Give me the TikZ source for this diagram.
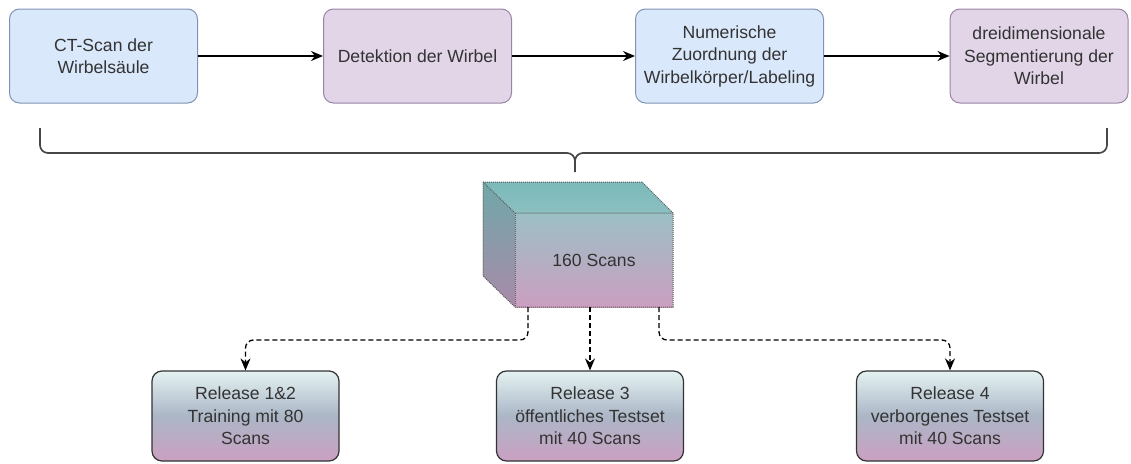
\documentclass[tikz,border=0pt]{standalone}
\usepackage{fontspec}
\setmainfont{Liberation Sans}
\usetikzlibrary{arrows.meta,calc}
\definecolor{bluefill}{HTML}{DAE8FC}
\definecolor{bluedraw}{HTML}{7F93B5}
\definecolor{purplefill}{HTML}{E1D5E7}
\definecolor{purpledraw}{HTML}{9A84A6}
\definecolor{txt}{HTML}{333333}
\definecolor{glosstop}{HTML}{E4F2F2}
\definecolor{glossmid}{HTML}{ABB6C6}
\definecolor{glossbot}{HTML}{CBA0C2}
\definecolor{cubetopA}{HTML}{7BBABA}
\definecolor{cubetopB}{HTML}{8CBFC0}
\definecolor{cubefrontA}{HTML}{9CBFC4}
\definecolor{cubefrontB}{HTML}{CB9FC1}
\definecolor{cubeleftA}{HTML}{6FA8A8}
\definecolor{cubeleftB}{HTML}{A98AA9}
\tikzset{
  lbl/.style={text=txt, font=\fontsize{17.6}{22.5}\selectfont, align=center},
  topbox/.style={lbl, rounded corners=10pt, line width=1pt, minimum width=188pt, minimum height=94pt, inner sep=2pt},
  bluebox/.style={topbox, fill=bluefill, draw=bluedraw},
  purplebox/.style={topbox, fill=purplefill, draw=purpledraw},
  relbox/.style={lbl, rounded corners=10pt, draw=txt, line width=1.2pt, minimum width=187pt, minimum height=90pt,
    top color=glosstop, bottom color=glossbot, middle color=glossmid},
  flow/.style={line width=1.3pt, black, -{Stealth[length=12pt,width=10pt]}},
  dflow/.style={line width=1.3pt, black, dashed, dash pattern=on 5pt off 3pt, rounded corners=8pt, -{Stealth[length=12pt,width=10pt]}},
  bracestyle/.style={line width=1.7pt, draw=txt!90},
  cubeedge/.style={draw=txt!80, densely dotted, line width=1pt}
}
\begin{document}
\begin{tikzpicture}[x=1pt,y=-1pt]
\useasboundingbox (0,0) rectangle (1131,463);
% top row
\node[bluebox]   (b1) at (103.5,56) {CT-Scan der\\Wirbelsäule};
\node[purplebox] (b2) at (417.5,56) {Detektion der Wirbel};
\node[bluebox]   (b3) at (729.5,56) {Numerische\\Zuordnung der\\Wirbelkörper/Labeling};
\node[purplebox, minimum width=178pt] (b4) at (1039,56) {dreidimensionale\\Segmentierung der\\Wirbel};
\draw[flow] (b1) -- (b2);
\draw[flow] (b2) -- (b3);
\draw[flow] (b3) -- (b4);
% brace
\coordinate (brL) at (40,128);
\coordinate (brR) at (1107,128);
\coordinate (brM) at (575,161);
\coordinate (brT) at (575,172);
\draw[bracestyle] (brL) -- (40,145) to[out=-90,in=180] (48,153) -- (567,153) to[out=0,in=90] (brM) -- (brT);
\draw[bracestyle] (brR) -- (1107,145) to[out=-90,in=0] (1099,153) -- (583,153) to[out=180,in=90] (brM);
% cube
\shade[top color=cubetopA, bottom color=cubetopB] (483,182) -- (642,182) -- (673,213) -- (515,213) -- cycle;
\shade[top color=cubeleftA, bottom color=cubeleftB] (483,182) -- (515,213) -- (515,307) -- (483,276) -- cycle;
\shade[top color=cubefrontA, bottom color=cubefrontB] (515,213) rectangle (673,307);
\draw[cubeedge] (483,182) -- (642,182) -- (673,213) -- (673,307) -- (515,307) -- (483,276) -- cycle;
\draw[cubeedge] (483,182) -- (515,213) -- (673,213);
\draw[cubeedge] (515,213) -- (515,307);
\node[lbl, minimum width=158pt, minimum height=94pt] (cube) at (594,260) {160 Scans};
% release boxes
\node[relbox] (r1) at (245.5,416) {Release 1\&2\\Training mit 80\\Scans};
\node[relbox] (r2) at (590,416) {Release 3\\öffentliches Testset\\mit 40 Scans};
\node[relbox] (r3) at (950,416) {Release 4\\verborgenes Testset\\mit 40 Scans};
\coordinate (c1) at (528,307);
\coordinate (c2) at (590,307);
\coordinate (c3) at (659,307);
\draw[dflow] (c1) -- ++(0,33) -| (r1.north);
\draw[dflow] (c2) -- (r2.north);
\draw[dflow] (c3) -- ++(0,33) -| (r3.north);
\end{tikzpicture}
\end{document}
